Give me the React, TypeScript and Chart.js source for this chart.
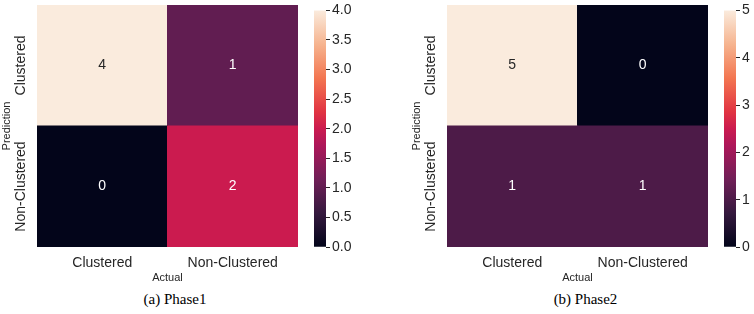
import React, { useEffect, useRef } from 'react';
import { Chart, registerables } from 'chart.js';

Chart.register(...registerables);

// ---------- data ----------
const xLabels = ['Clustered', 'Non-Clustered'];
const yLabels = ['Clustered', 'Non-Clustered']; // top to bottom
const phase1Values = [
  [4, 1],
  [0, 2],
];
const phase2Values = [
  [5, 0],
  [1, 1],
];
const phase1Max = 4;
const phase1Step = 0.5;
const phase2Max = 5;
const phase2Step = 1;
const captions = ['(a) Phase1', '(b) Phase2'];
const xTitle = 'Actual';
const yTitle = 'Prediction';

// ---------- colormap (seaborn "rocket") ----------
const rocketStops: [number, string][] = [
  [0, '#03051A'],
  [0.143, '#35193E'],
  [0.286, '#701F57'],
  [0.429, '#AD1759'],
  [0.5, '#CB1B4F'],
  [0.571, '#E13342'],
  [0.714, '#F37651'],
  [0.857, '#F6B48F'],
  [1, '#FAEBDD'],
];

function hexToRgb(h: string) {
  const n = parseInt(h.slice(1), 16);
  return [(n >> 16) & 255, (n >> 8) & 255, n & 255];
}

function rocket(t: number) {
  const c = Math.max(0, Math.min(1, t));
  for (let i = 0; i < rocketStops.length - 1; i++) {
    const [p0, c0] = rocketStops[i];
    const [p1, c1] = rocketStops[i + 1];
    if (c >= p0 && c <= p1) {
      const f = (c - p0) / (p1 - p0);
      const a = hexToRgb(c0);
      const b = hexToRgb(c1);
      const m = a.map((v, k) => Math.round(v + (b[k] - v) * f));
      return `rgb(${m[0]},${m[1]},${m[2]})`;
    }
  }
  return rocketStops[rocketStops.length - 1][1];
}

const FONT = "'Liberation Sans', Arial, sans-serif";
const TEXT = '#262626';

function makeHeatmap(canvas: HTMLCanvasElement, values: number[][], vmax: number) {
  const rows = values.length;
  const datasets = values.map((_, i) => {
    const r = rows - 1 - i;
    return {
      label: yLabels[r],
      data: values[r].map(() => 1),
      backgroundColor: values[r].map((v) => rocket(v / vmax)),
      borderWidth: 0,
      barPercentage: 1,
      categoryPercentage: 1,
      inflateAmount: 0.5,
      stack: 's',
    };
  });

  const textPlugin = {
    id: 'heatText',
    afterDatasetsDraw(chart: any) {
      const ctx = chart.ctx;
      ctx.save();
      ctx.font = `14px ${FONT}`;
      ctx.textAlign = 'center';
      ctx.textBaseline = 'middle';
      datasets.forEach((_, i) => {
        const r = rows - 1 - i;
        const meta = chart.getDatasetMeta(i);
        meta.data.forEach((el: any, j: number) => {
          const p = el.getProps(['x', 'y', 'base'], true);
          const v = values[r][j];
          ctx.fillStyle = v / vmax > 0.6 ? TEXT : '#ffffff';
          ctx.fillText(String(v), p.x, (p.y + p.base) / 2);
        });
      });
      // rotated y tick labels
      const ys = chart.scales.y;
      const lx = chart.chartArea.left - 15.5;
      ctx.fillStyle = TEXT;
      yLabels.forEach((lab, r) => {
        const py = ys.getPixelForValue(rows - 1 - r + 0.5);
        ctx.save();
        ctx.translate(lx, py);
        ctx.rotate(-Math.PI / 2);
        ctx.fillText(lab, 0, 0);
        ctx.restore();
      });
      ctx.restore();
    },
  };

  return new Chart(canvas, {
    type: 'bar',
    data: { labels: xLabels, datasets: datasets as any },
    options: {
      animation: false,
      responsive: false,
      layout: { padding: { top: 5, right: 2, left: 0, bottom: 0 } },
      plugins: { legend: { display: false }, tooltip: { enabled: false } },
      scales: {
        x: {
          type: 'category',
          stacked: true,
          grid: { display: false, drawTicks: false },
          border: { display: false },
          ticks: {
            font: { size: 14, family: FONT },
            color: TEXT,
            padding: 8,
            maxRotation: 0,
            autoSkip: false,
          },
          title: {
            display: true,
            text: xTitle,
            font: { size: 11, family: FONT },
            color: TEXT,
            padding: { top: 0, bottom: 5 },
          },
          afterFit: (s: any) => {
            s.height = 43;
          },
        },
        y: {
          type: 'linear',
          stacked: true,
          min: 0,
          max: rows,
          grid: { display: false, drawTicks: false },
          border: { display: false },
          ticks: { display: false },
          title: {
            display: true,
            text: yTitle,
            font: { size: 11, family: FONT },
            color: TEXT,
            padding: { top: 0, bottom: 0 },
          },
          afterFit: (s: any) => {
            s.width = 37;
          },
        },
      },
    } as any,
    plugins: [textPlugin],
  });
}

function makeColorbar(
  canvas: HTMLCanvasElement,
  vmax: number,
  step: number,
  decimals: number,
  axisWidth: number
) {
  return new Chart(canvas, {
    type: 'bar',
    data: {
      labels: [''],
      datasets: [
        {
          data: [vmax],
          borderWidth: 0,
          barPercentage: 1,
          categoryPercentage: 1,
          backgroundColor: (c: any) => {
            const chart = c.chart;
            const ca = chart.chartArea;
            if (!ca) return rocket(0);
            const g = chart.ctx.createLinearGradient(0, ca.bottom, 0, ca.top);
            rocketStops.forEach(([p, col]) => g.addColorStop(p, col));
            return g;
          },
        },
      ],
    },
    options: {
      animation: false,
      responsive: false,
      layout: { padding: { top: 5, left: 4, right: 0, bottom: 43 } },
      plugins: { legend: { display: false }, tooltip: { enabled: false } },
      scales: {
        x: { display: false },
        y: {
          position: 'right',
          min: 0,
          max: vmax,
          grid: {
            drawOnChartArea: false,
            drawTicks: true,
            tickLength: 4,
            color: TEXT,
            lineWidth: 1,
          },
          border: { display: false },
          ticks: {
            stepSize: step,
            autoSkip: false,
            padding: 2,
            color: TEXT,
            font: { size: 14, family: FONT },
            callback: (v: any) => Number(v).toFixed(decimals),
          },
          afterFit: (s: any) => {
            s.width = axisWidth;
          },
        },
      },
    } as any,
  });
}

export default function App() {
  const h1 = useRef<HTMLCanvasElement>(null);
  const c1 = useRef<HTMLCanvasElement>(null);
  const h2 = useRef<HTMLCanvasElement>(null);
  const c2 = useRef<HTMLCanvasElement>(null);

  useEffect(() => {
    const charts = [
      makeHeatmap(h1.current!, phase1Values, phase1Max),
      makeColorbar(c1.current!, phase1Max, phase1Step, 1, 51),
      makeHeatmap(h2.current!, phase2Values, phase2Max),
      makeColorbar(c2.current!, phase2Max, phase2Step, 0, 18),
    ];
    return () => charts.forEach((c) => c.destroy());
  }, []);

  const abs = (left: number, w: number, h: number): React.CSSProperties => ({
    position: 'absolute',
    left,
    top: 0,
    width: w,
    height: h,
  });

  const cap = (cx: number): React.CSSProperties => ({
    position: 'absolute',
    left: cx,
    top: 290,
    transform: 'translateX(-50%)',
    font: "15px 'Liberation Serif', 'Times New Roman', serif",
    lineHeight: '18px',
    color: '#000',
    whiteSpace: 'nowrap',
  });

  return (
    <div
      style={{
        position: 'absolute',
        left: 0,
        top: 0,
        width: 754,
        height: 314,
        background: '#fff',
        overflow: 'hidden',
      }}
    >
      <canvas ref={h1} width={300} height={290} style={abs(0, 300, 290)} />
      <canvas ref={c1} width={67} height={290} style={abs(310, 67, 290)} />
      <canvas ref={h2} width={300} height={290} style={abs(410, 300, 290)} />
      <canvas ref={c2} width={34} height={290} style={abs(720, 34, 290)} />
      <div style={cap(175)}>{captions[0]}</div>
      <div style={cap(585.5)}>{captions[1]}</div>
    </div>
  );
}
